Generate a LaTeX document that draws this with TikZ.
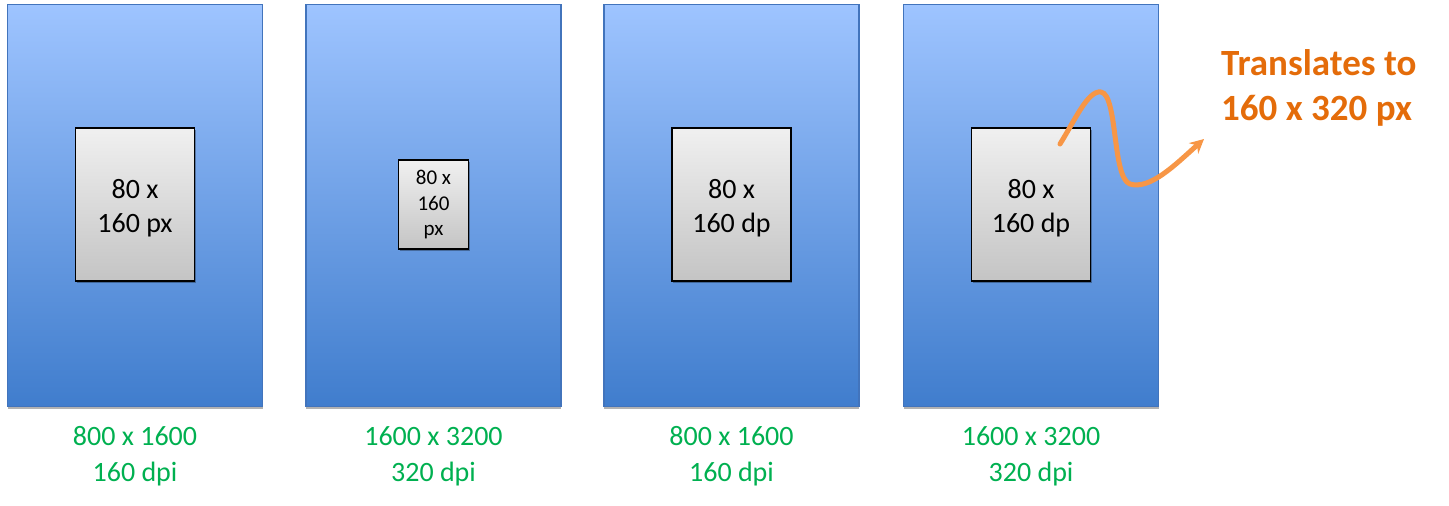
\documentclass[tikz,border=0pt]{standalone}
\usepackage{fontspec}
\setmainfont{Carlito}
\usepackage{xcolor}
\usepackage{tikz}
\usetikzlibrary{arrows.meta, shadows}
\definecolor{screentop}{RGB}{158, 196, 255}
\definecolor{screenmid}{RGB}{124, 168, 236}
\definecolor{screenbot}{RGB}{64, 125, 205}
\definecolor{screenedge}{RGB}{66, 116, 188}
\definecolor{boxtop}{RGB}{240, 240, 240}
\definecolor{boxbot}{RGB}{196, 196, 196}
\definecolor{dpigreen}{RGB}{0, 176, 80}
\definecolor{noteorange}{RGB}{228, 108, 10}
\definecolor{waveorange}{RGB}{247, 150, 70}

\begin{document}
\begin{tikzpicture}[x=1pt, y=-1pt,
    screen/.style={draw=screenedge, line width=1.6pt, top color=screentop, middle color=screenmid, bottom color=screenbot,
        minimum width=255pt, minimum height=402pt, inner sep=0pt,
        drop shadow={shadow xshift=0pt, shadow yshift=-3pt, opacity=0.3, fill=black}},
    imgbox/.style={draw=black, line width=1.5pt, top color=boxtop, bottom color=boxbot, inner sep=0pt, align=center,
        drop shadow={shadow xshift=1pt, shadow yshift=-2pt, opacity=0.3, fill=black}},
    dpilabel/.style={dpigreen, inner sep=0pt, align=center, font=\fontsize{28}{36}\selectfont}]
    \useasboundingbox (0,0) rectangle (1449,506);

    % 屏幕 1 (800 x 1600, 160 dpi)
    \begin{scope}[xshift=135pt]
        \node[screen] (screenA) at (0,205.3) {};
        \node[imgbox, minimum width=119pt, minimum height=153pt, font=\fontsize{28}{34.5}\selectfont] (boxA) at (0,204.7) {\rule{0pt}{26pt}80 x\\160 px};
        \node[dpilabel] (labelA) at (0,456) {800 x 1600\\160 dpi};
    \end{scope}

    % 屏幕 2 (1600 x 3200, 320 dpi)
    \begin{scope}[xshift=433.5pt]
        \node[screen] (screenB) at (0,205.3) {};
        \node[imgbox, minimum width=70pt, minimum height=89pt, font=\fontsize{21}{25.5}\selectfont] (boxB) at (0,204.7) {80 x\\160\\px};
        \node[dpilabel] (labelB) at (0,456) {1600 x 3200\\320 dpi};
    \end{scope}

    % 屏幕 3 - dp
    \begin{scope}[xshift=731.5pt]
        \node[screen] (screenC) at (0,205.3) {};
        \node[imgbox, minimum width=119pt, minimum height=153pt, font=\fontsize{28}{34.5}\selectfont] (boxC) at (0,204.7) {\rule{0pt}{26pt}80 x\\160 dp};
        \node[dpilabel] (labelC) at (0,456) {800 x 1600\\160 dpi};
    \end{scope}

    % 屏幕 4 - dp
    \begin{scope}[xshift=1031pt]
        \node[screen] (screenD) at (0,205.3) {};
        \node[imgbox, minimum width=119pt, minimum height=153pt, font=\fontsize{28}{34.5}\selectfont] (boxD) at (0,204.7) {\rule{0pt}{26pt}80 x\\160 dp};
        \node[dpilabel] (labelD) at (0,456) {1600 x 3200\\320 dpi};
    \end{scope}

    % 说明 (note)
    \node[noteorange, anchor=north west, inner sep=0pt, align=left, font=\fontsize{37}{45}\selectfont\bfseries] (note) at (1221,49.5) {Translates to\\160 x 320 px};

    % 箭头 (wave)
    \coordinate (wavestart) at (1060,144);
    \coordinate (wavetip) at (1204,139);
    \draw[waveorange, line width=5pt, line cap=round, -{Stealth[length=14pt, width=14pt]}]
        (wavestart) .. controls (1075,120) and (1088,90) .. (1101,92)
        .. controls (1118,95) and (1112,178) .. (1130,184)
        .. controls (1150,190) and (1175,165) .. (wavetip);
\end{tikzpicture}
\end{document}
